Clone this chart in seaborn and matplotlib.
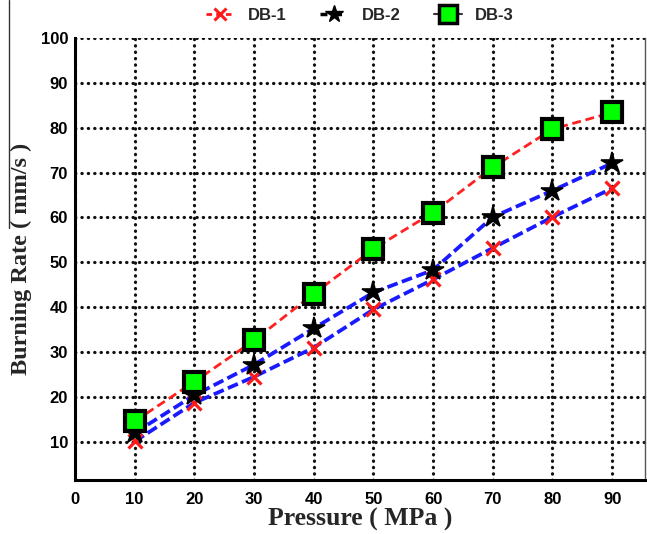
import numpy as np
import pandas as pd
import matplotlib
matplotlib.use("Agg")
import matplotlib.pyplot as plt
import seaborn as sns
from matplotlib.lines import Line2D

# ---- data ----
pressure = [10, 20, 30, 40, 50, 60, 70, 80, 90]
db1 = [10.1, 18.7, 24.5, 31.0, 39.5, 46.2, 53.2, 60.1, 66.5]
db2 = [12.0, 20.4, 27.2, 35.3, 43.3, 48.3, 60.1, 66.0, 72.1]
db3 = [14.6, 23.4, 32.6, 43.0, 53.0, 61.1, 71.2, 79.7, 83.4]
series_names = ["DB-1", "DB-2", "DB-3"]
x_ticks = [0, 10, 20, 30, 40, 50, 60, 70, 80, 90]
y_ticks = [10, 20, 30, 40, 50, 60, 70, 80, 90, 100]

df = pd.DataFrame({"Pressure": pressure, "DB-1": db1, "DB-2": db2, "DB-3": db3})

sns.set_style("white")
plt.rcParams["font.family"] = ["Liberation Sans", "DejaVu Sans"]

fig = plt.figure(figsize=(6.47, 5.34), dpi=100)
ax = fig.add_axes([75 / 647, 1 - 480 / 534, (645 - 75) / 647, (480 - 38) / 534])

# grid first (below lines)
ax.set_axisbelow(True)
ax.grid(True, color="#111111", linestyle=(0, (0.1, 1.9)), linewidth=2.3,
        dash_capstyle="round")

# DB-1: blue dashed line, red x markers
sns.lineplot(data=df, x="Pressure", y="DB-1", ax=ax, color="#1a1aff",
             linestyle=(0, (2.9, 1.2)), linewidth=2.7, marker="x",
             markersize=10, markeredgewidth=2.3, markeredgecolor="#ff1a1a",
             markerfacecolor="#ff1a1a", zorder=3)
# DB-2: blue dashed line, black star markers
sns.lineplot(data=df, x="Pressure", y="DB-2", ax=ax, color="#1a1aff",
             linestyle=(0, (2.9, 1.2)), linewidth=2.7, marker="*",
             markersize=16, markeredgewidth=1.2, markeredgecolor="black",
             markerfacecolor="black", zorder=4)
# DB-3: red dashed line, green square markers
sns.lineplot(data=df, x="Pressure", y="DB-3", ax=ax, color="#ff2020",
             linestyle=(0, (3.2, 1.7)), linewidth=2.0, marker="s",
             markersize=15, markeredgewidth=3.0, markeredgecolor="black",
             markerfacecolor="#00ff00", zorder=5)

ax.set_xlim(0, 95.5)
ax.set_ylim(1.5, 100)
ax.set_xticks(x_ticks)
ax.set_yticks(y_ticks)
ax.set_xticklabels([str(v) for v in x_ticks], fontsize=12, fontweight="bold")
ax.set_yticklabels([str(v) for v in y_ticks], fontsize=12, fontweight="bold")
ax.tick_params(axis="both", direction="in", length=4, width=1.5, colors="black")
ax.tick_params(axis="x", pad=9)
ax.tick_params(axis="y", pad=5)

for s in ["left", "bottom"]:
    ax.spines[s].set_linewidth(2.2)
    ax.spines[s].set_color("black")
ax.spines["top"].set_visible(False)
ax.spines["right"].set_linewidth(1.0)
ax.spines["right"].set_color("#555555")

ax.set_xlabel("Pressure ( MPa )", fontsize=18.5, fontweight="bold",
              family=["Liberation Serif", "DejaVu Serif"], labelpad=0)
ax.set_ylabel("Burning Rate ( mm/s )", fontsize=17.5, fontweight="bold",
              family=["Liberation Serif", "DejaVu Serif"], labelpad=6)

# legend
handles = [
    Line2D([], [], color="#ff1a1a", linestyle=(0, (2.0, 1.5)), linewidth=2,
           marker="x", markersize=9, markeredgewidth=2.2),
    Line2D([], [], color="black", linestyle=(0, (2.0, 2.2)), linewidth=2.5,
           marker="*", markersize=13),
    Line2D([], [], color="#333333", linestyle="-", linewidth=1.5,
           marker="s", markersize=13, markeredgewidth=2.5,
           markeredgecolor="black", markerfacecolor="#00ff00"),
]
leg = ax.legend(handles, series_names, loc="center", ncol=3, frameon=False,
                bbox_to_anchor=(360 / 647, 1 - 15 / 534),
                bbox_transform=fig.transFigure,
                prop={"size": 12, "weight": "bold"},
                handlelength=1.7, handletextpad=0.8, columnspacing=2.0)

# left border artifact line from the source picture
fig.add_artist(Line2D([8.5 / 647, 8.5 / 647], [1.0, 1 - 228 / 534],
                      transform=fig.transFigure, color="#333333", linewidth=1.0))

fig.savefig("out.png", dpi=100)
